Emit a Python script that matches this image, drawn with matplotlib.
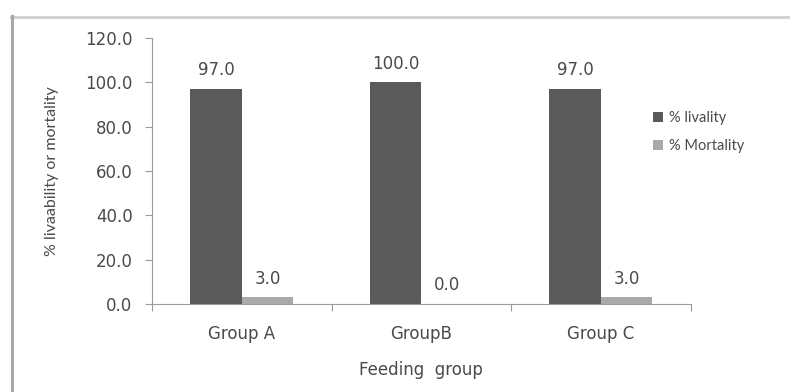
import matplotlib
matplotlib.use("Agg")
import matplotlib.pyplot as plt
from matplotlib.lines import Line2D
import numpy as np

groups = ["Group A", "GroupB", "Group C"]
livability = [97.0, 100.0, 97.0]
mortality = [3.0, 0.0, 3.0]
series_names = ["% livality", "% Mortality"]
y_ticks = [0, 20, 40, 60, 80, 100, 120]

dark = "#5a5a5a"
light = "#a9a9a9"
text_col = "#4a4a4a"
axis_col = "#9a9a9a"
num_font = "DejaVu Sans"
side_font = ["Lato", "DejaVu Sans"]
fs = 12

fig = plt.figure(figsize=(7.9, 3.92), dpi=100)
fig.patch.set_facecolor("white")

# outer chart frame (top and left edges visible)
fig.add_artist(Line2D([11 / 790, 1.0], [1 - 17 / 392, 1 - 17 / 392],
                      transform=fig.transFigure, color="#d2d2d2", lw=2.2))
fig.add_artist(Line2D([12 / 790, 12 / 790], [0.0, 1 - 16 / 392],
                      transform=fig.transFigure, color="#a8a8a8", lw=2.2))

ax = fig.add_axes([152 / 790, 1 - 304 / 392, (690.5 - 152) / 790, (304 - 38) / 392])

x = np.arange(len(groups))
w = 0.287
b1 = ax.bar(x - w / 2, livability, w, color=dark, label=series_names[0])
b2 = ax.bar(x + w / 2, mortality, w, color=light, label=series_names[1])

for bars, vals in ((b1, livability), (b2, mortality)):
    for rect, v in zip(bars, vals):
        ax.annotate(f"{v:.1f}", (rect.get_x() + rect.get_width() / 2, v),
                    xytext=(0, 7), textcoords="offset points",
                    ha="center", va="bottom", fontsize=fs,
                    color=text_col, family=num_font)

ax.set_xlim(-0.5, len(groups) - 0.5)
ax.set_ylim(0, 120)
ax.set_yticks(y_ticks)
ax.set_yticklabels([f"{t:.1f}" for t in y_ticks], fontsize=fs,
                   color=text_col, family=num_font)
ax.set_xticks(x)
ax.set_xticklabels(groups, fontsize=fs, color=text_col, family=num_font)
ax.set_xticks(np.arange(len(groups) + 1) - 0.5, minor=True)

ax.tick_params(axis="y", which="major", length=5, width=0.8, color=axis_col, pad=9)
ax.tick_params(axis="x", which="major", length=0, pad=15)
ax.tick_params(axis="x", which="minor", length=5, width=0.8, color=axis_col,
               direction="out")

for s in ("top", "right"):
    ax.spines[s].set_visible(False)
for s in ("left", "bottom"):
    ax.spines[s].set_color(axis_col)
    ax.spines[s].set_linewidth(0.8)

ax.set_xlabel("Feeding  group", fontsize=fs, color=text_col,
              family=num_font, labelpad=13)

fig.text(52 / 790, 1 - 171 / 392, "% livaability or mortality", rotation=90,
         ha="center", va="center", fontsize=11.5, color=text_col,
         family=side_font)

leg = fig.legend(handles=[b1, b2], labels=series_names,
                 loc="upper left", bbox_to_anchor=(640 / 790, 1 - 98 / 392),
                 frameon=False, handlelength=0.7, handleheight=0.7,
                 handletextpad=0.4, labelspacing=0.95,
                 prop={"family": side_font, "size": 10.5})
for t in leg.get_texts():
    t.set_color(text_col)

fig.savefig("out.png", dpi=100, facecolor="white")
